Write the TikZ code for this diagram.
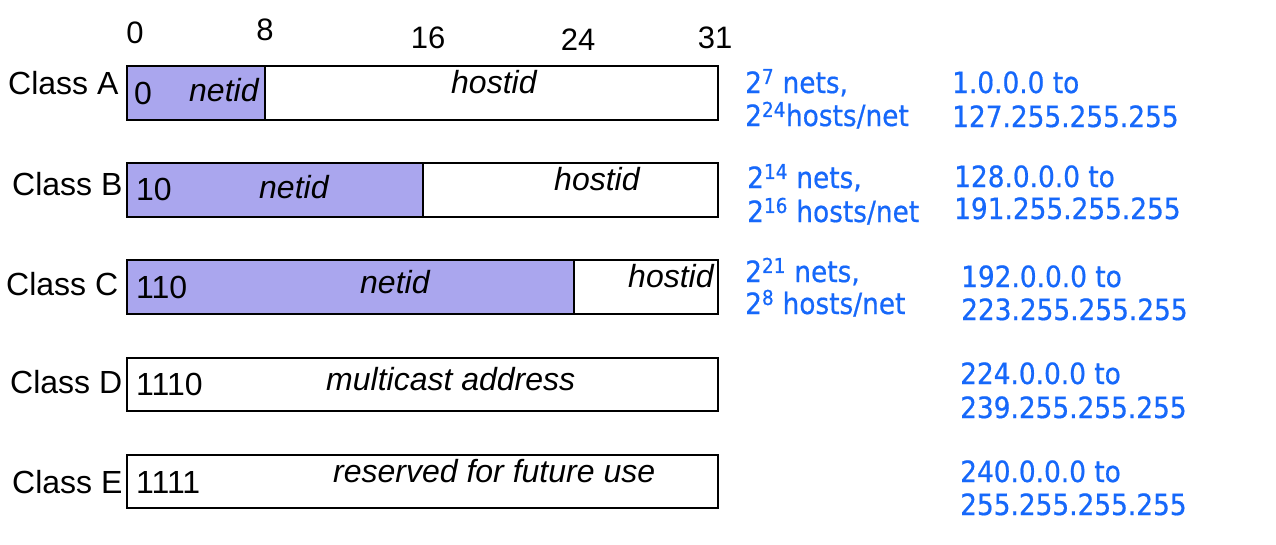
\documentclass[tikz,border=0pt]{standalone}
\usepackage{fontspec}
\setmainfont{Liberation Sans}
\newfontfamily\bluefont[FakeStretch=0.9,FakeBold=0.6]{DejaVu Sans}
\definecolor{netfill}{RGB}{170,166,238}
\definecolor{ipblue}{RGB}{22,104,250}
\tikzset{
  lbl/.style={anchor=base west, inner sep=0pt, font=\fontsize{32}{38}\selectfont},
  ilbl/.style={lbl, font=\fontsize{32}{38}\selectfont\itshape},
  bit/.style={anchor=base, inner sep=0pt, font=\fontsize{31}{37}\selectfont},
  info/.style={anchor=base west, inner sep=0pt, text=ipblue, font=\fontsize{29.3}{35}\selectfont\bluefont},
  field/.style={draw=black, line width=1.3pt},
}
\begin{document}
\begin{tikzpicture}[x=1pt,y=-1pt]
\useasboundingbox (0,0) rectangle (1276,544);
% bit positions
\node[bit] (b0) at (135,43) {0};
\node[bit] (b8) at (265,40) {8};
\node[bit] (b16) at (428,48) {16};
\node[bit] (b24) at (578,50) {24};
\node[bit] (b31) at (715,48) {31};
% Class A
\filldraw[field, fill=white] (127,66) rectangle (718,120);
\filldraw[field, fill=netfill] (127,66) rectangle (265,120);
\node[lbl] (cA) at (8,94) {Class A};
\node[lbl] (pA) at (134,104) {0};
\node[ilbl] (nA) at (189,101) {netid};
\node[ilbl] (hA) at (451,93) {hostid};
% Class B
\filldraw[field, fill=white] (127,163) rectangle (718,217);
\filldraw[field, fill=netfill] (127,163) rectangle (423,217);
\node[lbl] (cB) at (12,195) {Class B};
\node[lbl] (pB) at (136,200) {10};
\node[ilbl] (nB) at (259,198) {netid};
\node[ilbl] (hB) at (554,190) {hostid};
% Class C
\filldraw[field, fill=white] (127,260) rectangle (718,314);
\filldraw[field, fill=netfill] (127,260) rectangle (574,314);
\node[lbl] (cC) at (6,295) {Class C};
\node[lbl] (pC) at (136,298) {110};
\node[ilbl] (nC) at (360,293) {netid};
\node[ilbl] (hC) at (628,287) {hostid};
% Class D
\filldraw[field, fill=white] (127,358) rectangle (718,411);
\node[lbl] (cD) at (10,393) {Class D};
\node[lbl] (pD) at (136,395) {1110};
\node[ilbl] (mD) at (326,390) {multicast address};
% Class E
\filldraw[field, fill=white] (127,455) rectangle (718,508);
\node[lbl] (cE) at (12,493) {Class E};
\node[lbl] (pE) at (136,493) {1111};
\node[ilbl] (rE) at (333,482) {reserved for future use};
% info columns
\node[info] (iA1) at (745,93) {2\textsuperscript{7} nets,};
\node[info] (iA2) at (745,126) {2\textsuperscript{24}hosts/net};
\node[info] (rA1) at (952,93) {1.0.0.0 to};
\node[info] (rA2) at (952,127) {127.255.255.255};
\node[info] (iB1) at (747,188) {2\textsuperscript{14} nets,};
\node[info] (iB2) at (747,222) {2\textsuperscript{16} hosts/net};
\node[info] (rB1) at (954,187) {128.0.0.0 to};
\node[info] (rB2) at (954,219) {191.255.255.255};
\node[info] (iC1) at (745,282) {2\textsuperscript{21} nets,};
\node[info] (iC2) at (745,314) {2\textsuperscript{8} hosts/net};
\node[info] (rC1) at (961,287) {192.0.0.0 to};
\node[info] (rC2) at (961,320) {223.255.255.255};
\node[info] (rD1) at (960,384) {224.0.0.0 to};
\node[info] (rD2) at (960,418) {239.255.255.255};
\node[info] (rE1) at (960,482) {240.0.0.0 to};
\node[info] (rE2) at (960,515) {255.255.255.255};
\end{tikzpicture}
\end{document}
